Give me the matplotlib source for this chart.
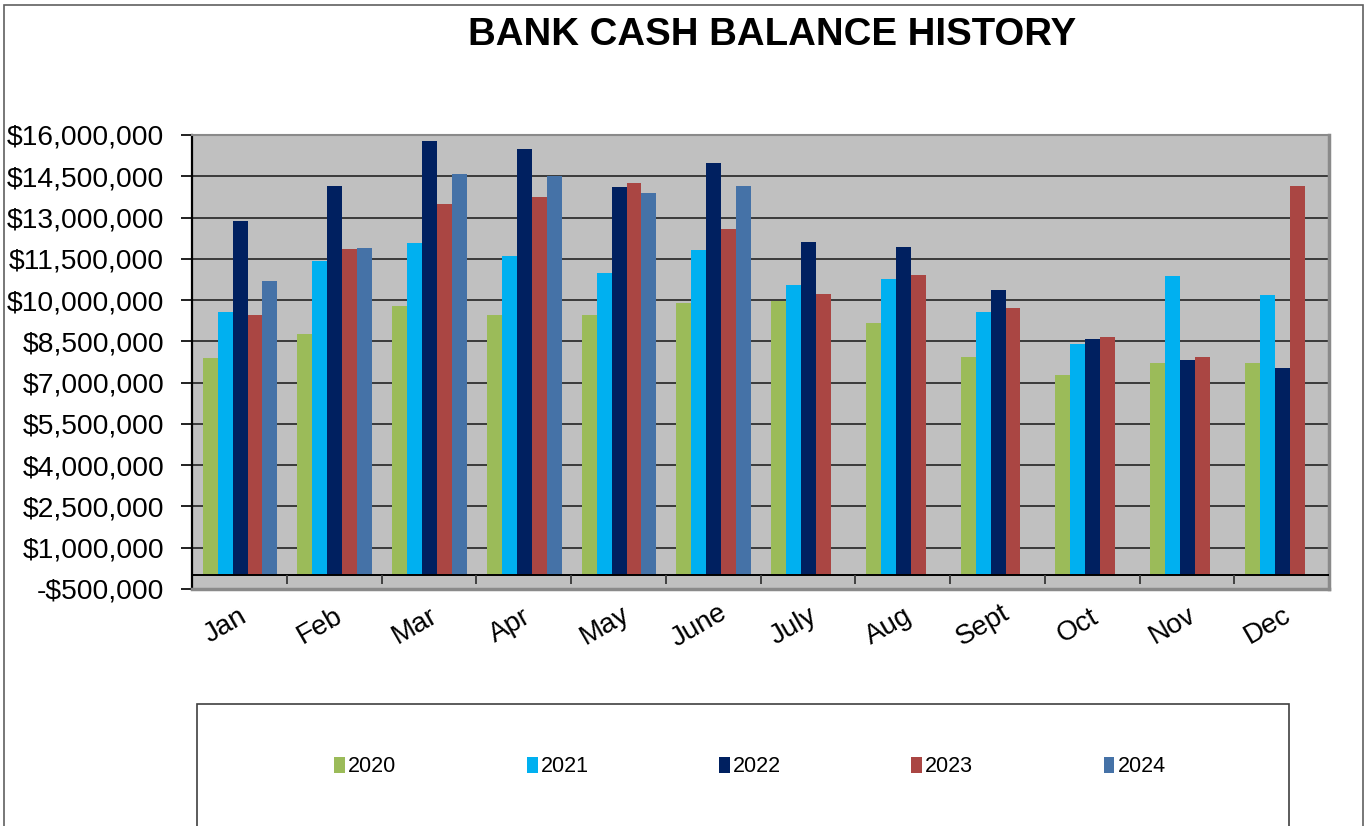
import matplotlib
matplotlib.use("Agg")
import matplotlib.pyplot as plt
import numpy as np
from matplotlib.patches import Rectangle

# values (dollars)
months = ['Jan', 'Feb', 'Mar', 'Apr', 'May', 'June', 'July', 'Aug', 'Sept', 'Oct', 'Nov', 'Dec']
years = ['2020', '2021', '2022', '2023', '2024']
bal_2020 = [7880000, 8770000, 9800000, 9450000, 9470000, 9900000, 9970000, 9170000, 7940000, 7270000, 7700000, 7700000]
bal_2021 = [9570000, 11430000, 12080000, 11590000, 10990000, 11820000, 10560000, 10760000, 9570000, 8400000, 10880000, 10200000]
bal_2022 = [12880000, 14140000, 15780000, 15490000, 14120000, 14980000, 12110000, 11940000, 10360000, 8580000, 7830000, 7530000]
bal_2023 = [9440000, 11850000, 13480000, 13730000, 14270000, 12590000, 10220000, 10920000, 9710000, 8670000, 7940000, 14130000]
bal_2024 = [10700000, 11880000, 14590000, 14520000, 13900000, 14130000, np.nan, np.nan, np.nan, np.nan, np.nan, np.nan]
colors = ['#9BBB59', '#00B0F0', '#002060', '#AA4643', '#4572A7']

series = [bal_2020, bal_2021, bal_2022, bal_2023, bal_2024]
yticks = np.arange(-500000, 16000001, 1500000)

plt.rcParams['font.family'] = ['Liberation Sans', 'DejaVu Sans']

W, H = 1369, 826
fig = plt.figure(figsize=(W / 100, H / 100), dpi=100)

def px(x0, y0, x1, y1):
    # pixel box -> figure fraction [left, bottom, width, height]
    return [x0 / W, 1 - y1 / H, (x1 - x0) / W, (y1 - y0) / H]

ax = fig.add_axes(px(192, 135, 1329, 589))
ax.set_facecolor('#C0C0C0')
ax.set_xlim(0, 12)
ax.set_ylim(-500000, 16000000)

# gridlines
for t in yticks[1:-1]:
    ax.axhline(t, color='#3A3A3A', lw=1.4, zorder=1)

# floor band under zero
ax.axhspan(-500000, 0, color='#C0C0C0', zorder=2)
ax.axhline(0, color='black', lw=1.4, zorder=4)
ax.vlines(np.arange(1, 12), -330000, 0, color='#404040', lw=1.4, zorder=4)

bw = 0.158
off = 0.112
x = np.arange(len(months))
for i, (vals, c, lab) in enumerate(zip(series, colors, years)):
    ax.bar(x + off + bw * (i + 0.5), vals, width=bw, color=c, label=lab,
           zorder=3, edgecolor='none')

ax.set_yticks(yticks)
ax.set_yticklabels([('-$' if v < 0 else '$') + format(abs(int(v)), ',') for v in yticks],
                   fontsize=20.3)
ax.tick_params(axis='y', length=8, width=1.4, pad=12, color='#202020')
ax.set_xticks([])

for s in ['top', 'right', 'bottom']:
    ax.spines[s].set_color('#8A8A8A')
ax.spines['top'].set_linewidth(1.5)
ax.spines['right'].set_linewidth(2.5)
ax.spines['bottom'].set_linewidth(2.5)
ax.spines['left'].set_color('black')
ax.spines['left'].set_linewidth(1.6)

# month labels, rotated
for i, m in enumerate(months):
    xc = 192 + (i + 0.5) * (1137 / 12) - 14
    fig.text(xc / W, 1 - 626 / H, m, rotation=30, ha='center', va='center', fontsize=20)

fig.text(772 / W, 1 - 35 / H, 'BANK CASH BALANCE HISTORY', ha='center', va='center',
         fontsize=27.6, fontweight='bold')

# outer chart border and legend box
fig.patches.append(Rectangle((4 / W, -0.02), (1363 - 4) / W, 1 - 5 / H + 0.02,
                             transform=fig.transFigure, fill=False, edgecolor='#606060', lw=1.2))
fig.patches.append(Rectangle((197 / W, -0.02), (1289 - 197) / W, 1 - 704 / H + 0.02,
                             transform=fig.transFigure, fill=False, edgecolor='#404040', lw=1.2))

handles, labels = ax.get_legend_handles_labels()
fig.legend(handles, labels, loc='center', bbox_to_anchor=(750 / W, 1 - 767 / H), ncol=5,
           frameon=False, fontsize=15.5, handlelength=0.5, handleheight=0.75,
           handletextpad=0.15, columnspacing=6.05)

fig.savefig('out.png', dpi=100)
